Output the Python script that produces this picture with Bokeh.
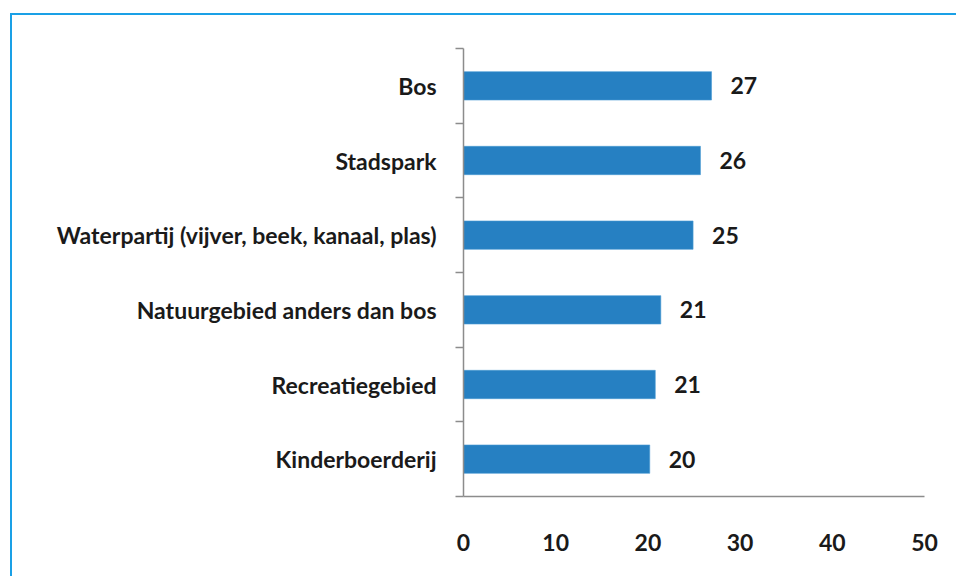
from bokeh.plotting import figure
from bokeh.models import Range1d, FixedTicker, ColumnDataSource
from bokeh.core.properties import value
from bokeh.embed import file_html
from bokeh.resources import INLINE

# Data (top to bottom as shown)
categories = ["Bos", "Stadspark", "Waterpartij (vijver, beek, kanaal, plas)",
              "Natuurgebied anders dan bos", "Recreatiegebied", "Kinderboerderij"]
values = [26.9, 25.7, 24.9, 21.4, 20.8, 20.2]
value_labels = ["27", "26", "25", "21", "21", "20"]
x_ticks = [0, 10, 20, 30, 40, 50]

n = len(categories)
positions = [n - 1 - i + 0.5 for i in range(n)]

FONT = "Lato"
FS = "23px"
BAR = "#2680c2"
AXIS = "#8c8c8c"
FRAME = "#1aa0e6"

p = figure(width=946, height=563, output_backend="svg", toolbar_location=None,
           x_range=Range1d(0, 50), y_range=Range1d(0, n),
           min_border_left=451, min_border_top=33, min_border_right=34, min_border_bottom=82)
# chart-area border: painted only along the top and left edges
grad = "linear-gradient(%s, %s)" % (FRAME, FRAME)
p.styles = {"margin-left": "10px", "margin-top": "13px",
            "padding-left": "2px", "padding-top": "2px",
            "background-image": grad + ", " + grad,
            "background-size": "2px 100%, 100% 2px",
            "background-repeat": "no-repeat",
            "background-position": "left top, left top"}
p.outline_line_color = None
p.xgrid.visible = False
p.ygrid.visible = False

src = ColumnDataSource(dict(y=positions, right=values, lab=value_labels, cat=categories))
p.hbar(y="y", left=0, right="right", height=0.38, source=src,
       fill_color=BAR, line_color="#4a9ad4", line_width=0.6)
p.text(x="right", y="y", text="lab", source=src, x_offset=19,
       text_align="left", text_baseline="middle",
       text_font=value(FONT), text_font_style="bold", text_font_size=FS, text_color="#1a1a1a")

# y axis: labels at centers, ticks at boundaries
ya = p.yaxis[0]
ya.ticker = FixedTicker(ticks=positions, minor_ticks=list(range(n + 1)))
ya.major_label_overrides = {pos: c for pos, c in zip(positions, categories)}
ya.major_tick_line_color = None
ya.major_tick_out = 0
ya.major_tick_in = 0
ya.minor_tick_out = 8
ya.minor_tick_in = 0
ya.minor_tick_line_color = AXIS
ya.minor_tick_line_width = 1.5
ya.axis_line_color = AXIS
ya.axis_line_width = 1.5
ya.major_label_standoff = 19
ya.major_label_text_font = FONT
ya.major_label_text_font_style = "bold"
ya.major_label_text_font_size = FS
ya.major_label_text_color = "#1a1a1a"

xa = p.xaxis[0]
xa.ticker = FixedTicker(ticks=x_ticks)
xa.major_tick_line_color = None
xa.major_tick_out = 0
xa.major_tick_in = 0
xa.minor_tick_line_color = None
xa.axis_line_color = AXIS
xa.axis_line_width = 1.5
xa.major_label_standoff = 37
xa.major_label_text_font = FONT
xa.major_label_text_font_style = "bold"
xa.major_label_text_font_size = FS
xa.major_label_text_color = "#1a1a1a"

open("out.html", "w").write(file_html(p, INLINE))
